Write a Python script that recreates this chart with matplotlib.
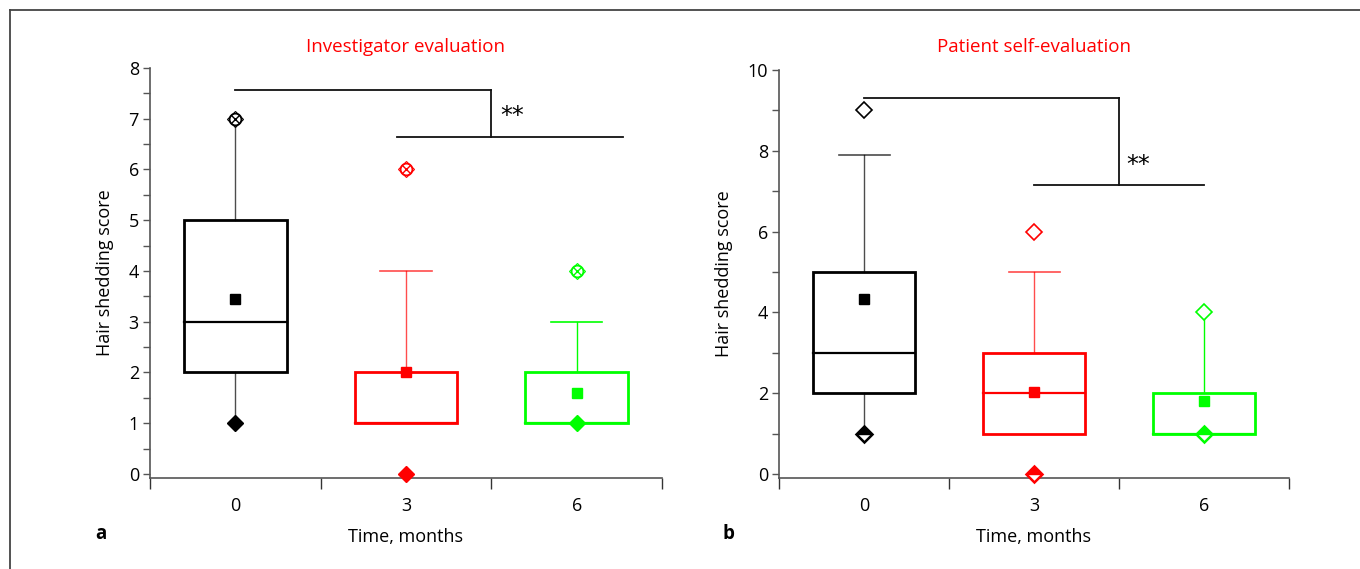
import matplotlib
matplotlib.use("Agg")
import matplotlib.pyplot as plt
from matplotlib.patches import Rectangle
from matplotlib.lines import Line2D
from matplotlib.path import Path
from matplotlib.markers import MarkerStyle

plt.rcParams['font.family'] = ['Open Sans', 'DejaVu Sans']

categories = ['0', '3', '6']
colors = ['#000000', '#ff0000', '#00ff00']

# Panel a: investigator evaluation
q1_a = [2, 1, 1]
q3_a = [5, 2, 2]
med_a = [3, 1, 1]
mean_a = [3.45, 2.0, 1.6]
whi_hi_a = [7, 4, 3]
cap_a = [False, True, True]
whi_lo_a = [1, 1, 1]
outl_a = [7, 6, 4]
min_a = [1, 0, 1]

# Panel b: patient self-evaluation
q1_b = [2, 1, 1]
q3_b = [5, 3, 2]
med_b = [3, 2, 1]
mean_b = [4.33, 2.03, 1.8]
whi_hi_b = [7.9, 5, 4]
cap_b = [True, True, False]
whi_lo_b = [1, 1, 1]
outl_b = [9, 6, 4]
min_b = [1, 0, 1]

fig = plt.figure(figsize=(13.6, 5.69), dpi=100)
axa = fig.add_axes([150/1360, 1-478/569, 512/1360, 410/569])
axb = fig.add_axes([779/1360, 1-478/569, 510/1360, 408/569])

half_top = MarkerStyle(Path([(-1, 0), (0, 1), (1, 0), (-1, 0)], [1, 2, 2, 79]))


def draw(ax, q1, q3, med, mean, hi, cap, lo, outl, mn, kind):
    w = 0.6
    for i, c in enumerate(colors):
        ax.add_patch(Rectangle((i - w/2, q1[i]), w, q3[i] - q1[i], fill=False,
                               edgecolor=c, lw=2, zorder=3))
        ax.plot([i - w/2, i + w/2], [med[i], med[i]], color=c, lw=1.6, zorder=3)
        ax.plot([i, i], [q3[i], hi[i]], color=c, lw=1, alpha=0.7 if c != '#00ff00' else 1, zorder=2)
        if cap[i]:
            ax.plot([i - 0.15, i + 0.15], [hi[i], hi[i]], color=c, lw=1.2, alpha=0.7 if c != '#00ff00' else 1, zorder=2)
        if lo[i] < q1[i]:
            ax.plot([i, i], [lo[i], q1[i]], color=c, lw=1, alpha=0.7, zorder=2)
        ax.plot(i, mean[i], marker='s', ms=7.5, color=c, mec=c, ls='none', zorder=5)
        if kind == 'a':
            ax.plot(i, outl[i], marker='o', ms=8.5, mfc='white', mec=c, mew=1.3, ls='none', zorder=5)
            ax.plot(i, outl[i], marker='x', ms=6, mec=c, mew=1.0, ls='none', zorder=6)
            ax.plot(i, outl[i], marker='D', ms=8, mfc='none', mec=c, mew=0.8, ls='none', zorder=6)
            ax.plot(i, mn[i], marker='D', ms=8, color=c, mec=c, ls='none', zorder=5, clip_on=False)
        else:
            ax.plot(i, outl[i], marker='D', ms=8, mfc='white', mec=c, mew=1.2, ls='none', zorder=5)
            ax.plot(i, mn[i], marker='D', ms=8.5, mfc='white', mec=c, mew=1.8, ls='none', zorder=5, clip_on=False)
            ax.plot(i, mn[i], marker=half_top, ms=9, color=c, mec=c, ls='none', zorder=6, clip_on=False)


draw(axa, q1_a, q3_a, med_a, mean_a, whi_hi_a, cap_a, whi_lo_a, outl_a, min_a, 'a')
draw(axb, q1_b, q3_b, med_b, mean_b, whi_hi_b, cap_b, whi_lo_b, outl_b, min_b, 'b')

axa.set_ylim(-0.08, 8)
axb.set_ylim(-0.1, 10)
axa.set_yticks(range(0, 9))
axa.set_yticks([v + 0.5 for v in range(0, 8)], minor=True)
axb.set_yticks(range(0, 11, 2))
axb.set_yticks(range(1, 10, 2), minor=True)

for ax in (axa, axb):
    ax.set_xlim(-0.5, 2.5)
    ax.set_xticks([-0.5, 0.5, 1.5, 2.5])
    ax.set_xticklabels([])
    ax.set_xticks([0, 1, 2], minor=True)
    ax.set_xticklabels(categories, minor=True)
    ax.tick_params(axis='x', which='major', length=8, width=1, color='#333333', direction='out')
    ax.tick_params(axis='x', which='minor', length=0, labelsize=13, pad=13.5)
    ax.tick_params(axis='y', which='both', length=5, width=1, color='#555555', labelsize=13, pad=3)
    for s in ('top', 'right'):
        ax.spines[s].set_visible(False)
    for s in ('left', 'bottom'):
        ax.spines[s].set_color('#555555')
        ax.spines[s].set_linewidth(1.2)
    ax.set_xlabel('Time, months', fontsize=13, labelpad=9.5)
    ax.set_ylabel('Hair shedding score', fontsize=13, labelpad=10.5)

axa.text(0.5, 1.051, 'Investigator evaluation', color='#ff0000', fontsize=13.5,
         ha='center', va='center', transform=axa.transAxes)
axb.text(0.5, 1.056, 'Patient self-evaluation', color='#ff0000', fontsize=13.5,
         ha='center', va='center', transform=axb.transAxes)

# significance brackets
brk_a = dict(top=7.57, low=6.64, x0=0, xv=1.5, x1=0.95, x2=2.27, sx=1.62, sy=7.05)
brk_b = dict(top=9.31, low=7.15, x0=0, xv=1.5, x1=1.0, x2=2.0, sx=1.61, sy=7.65)
for ax, b in ((axa, brk_a), (axb, brk_b)):
    kw = dict(color='#111111', lw=1.3, clip_on=False, zorder=4)
    ax.plot([b['x0'], b['xv']], [b['top'], b['top']], **kw)
    ax.plot([b['xv'], b['xv']], [b['top'], b['low']], **kw)
    ax.plot([b['x1'], b['x2']], [b['low'], b['low']], **kw)
    ax.text(b['sx'], b['sy'], '**', fontsize=17, family='DejaVu Sans', ha='center', va='center')

fig.text(101/1360, 1-534/569, 'a', fontsize=13.5, fontweight='bold', ha='center', va='center')
fig.text(728/1360, 1-534/569, 'b', fontsize=13.5, fontweight='bold', ha='center', va='center')

fig.add_artist(Line2D([10/1360, 10/1360], [0, 1-10/569], color='#444444', lw=1.3))
fig.add_artist(Line2D([10/1360, 1], [1-10/569, 1-10/569], color='#444444', lw=1.3))

fig.savefig('out.png', dpi=100)
